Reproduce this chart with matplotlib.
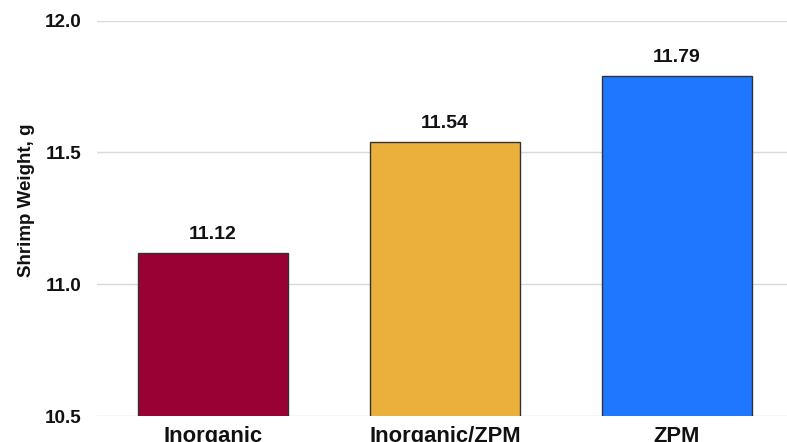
import matplotlib
matplotlib.use("Agg")
import matplotlib.pyplot as plt

categories = ["Inorganic", "Inorganic/ZPM", "ZPM"]
weights = [11.12, 11.54, 11.79]
bar_colors = ["#990033", "#EBB03B", "#1F77FF"]
y_ticks = [10.5, 11.0, 11.5, 12.0]

plt.rcParams["font.family"] = ["Liberation Sans", "DejaVu Sans"]
plt.rcParams["font.weight"] = "bold"

fig = plt.figure(figsize=(7.87, 4.42), dpi=100)
ax = fig.add_axes([97 / 787, 1 - 416 / 442, (793 - 97) / 787, (416 - 20.7) / 442])

x = list(range(len(categories)))
ax.bar(x, weights, width=0.65, color=bar_colors, edgecolor="#333333",
       linewidth=1.0, zorder=3)

for xi, v in zip(x, weights):
    ax.annotate(f"{v:.2f}", (xi, v), xytext=(0, 7), textcoords="offset points",
                ha="center", va="bottom", fontsize=14, fontweight="bold",
                color="#111111")

ax.set_xlim(-0.5, 2.5)
ax.set_ylim(10.5, 12.0)
ax.set_yticks(y_ticks)
ax.set_yticklabels([f"{t:.1f}" for t in y_ticks], fontsize=13.6, fontweight="bold")
ax.set_xticks(x)
ax.set_xticklabels(categories, fontsize=15.8, fontweight="bold")
ax.tick_params(axis="both", length=0, colors="#111111")
ax.tick_params(axis="y", pad=11)
ax.tick_params(axis="x", pad=7)

ax.grid(axis="y", color="#d9d9d9", linewidth=1.0, zorder=0)
ax.set_axisbelow(True)
for s in ax.spines.values():
    s.set_visible(False)

ax.set_ylabel("Shrimp Weight, g", fontsize=13.5, fontweight="bold", color="#111111")
ax.yaxis.set_label_coords(-0.089, 0.546)

fig.savefig("out.png", dpi=100)
